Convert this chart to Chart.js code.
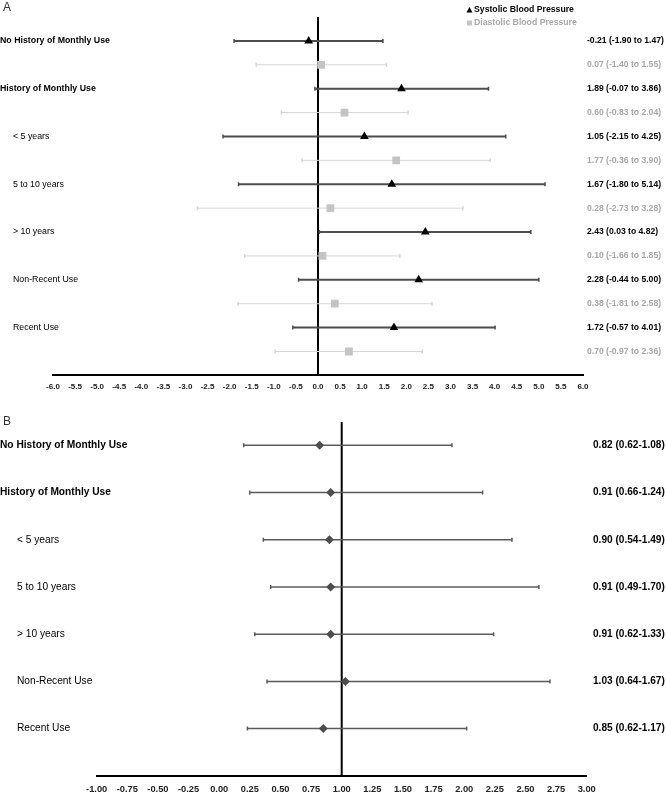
<!DOCTYPE html>
<html>
<head>
<meta charset="utf-8">
<script src="https://cdn.jsdelivr.net/npm/chart.js@4/dist/chart.umd.min.js"></script>
<style>
  body { margin: 0; background: #fff; overflow: hidden; }
  #wrap { position: relative; width: 666px; height: 793px; overflow: hidden; }
  canvas { position: absolute; left: 0; }
  #chartA { top: 0; }
  #chartB { top: 400px; }
</style>
</head>
<body>
<div id="wrap">
  <canvas id="chartA" width="666" height="400"></canvas>
  <canvas id="chartB" width="666" height="410"></canvas>
</div>
<script>
const grupos = ['No History of Monthly Use', 'History of Monthly Use', '< 5 years', '5 to 10 years', '> 10 years', 'Non-Recent Use', 'Recent Use'];

// Panel A: cambio de presión arterial (estimación e IC 95%)
const sbpEst  = [-0.21, 1.89, 1.05, 1.67, 2.43, 2.28, 1.72];
const sbpLow  = [-1.90, -0.07, -2.15, -1.80, 0.03, -0.44, -0.57];
const sbpHigh = [1.47, 3.86, 4.25, 5.14, 4.82, 5.00, 4.01];
const dbpEst  = [0.07, 0.60, 1.77, 0.28, 0.10, 0.38, 0.70];
const dbpLow  = [-1.40, -0.83, -0.36, -2.73, -1.66, -1.81, -0.97];
const dbpHigh = [1.55, 2.04, 3.90, 3.28, 1.85, 2.58, 2.36];

// Panel B: OR con IC impreso, y extremos de las barras tal como están dibujadas
const orEst  = [0.82, 0.91, 0.90, 0.91, 0.91, 1.03, 0.85];
const orLow  = [0.62, 0.66, 0.54, 0.49, 0.62, 0.64, 0.62];
const orHigh = [1.08, 1.24, 1.49, 1.70, 1.33, 1.67, 1.17];
const orBarLow  = [0.20, 0.25, 0.36, 0.42, 0.29, 0.39, 0.23];
const orBarHigh = [1.90, 2.15, 2.39, 2.61, 2.24, 2.70, 2.02];

const fam = "'Liberation Sans', Arial, sans-serif";
Chart.defaults.font.family = fam;
Chart.defaults.animation = false;

function bigote(lo, hi, y, color, width) {
    return {
        type: 'line',
        data: [{ x: lo, y: y }, { x: hi, y: y }],
        borderColor: color,
        borderWidth: width,
        pointStyle: 'line',
        pointRotation: 90,
        pointRadius: 2,
        pointBorderColor: color,
        pointBorderWidth: 1.5,
        showLine: true,
        order: 1
    };
}

// ---------- Panel A ----------
const datasetsA = [{
    type: 'line',
    data: [{ x: 0, y: -1 }, { x: 0, y: 14 }],
    borderColor: '#000',
    borderWidth: 2,
    pointRadius: 0,
    order: 2
}];
for (let i = 0; i < grupos.length; i++) {
    datasetsA.push(bigote(sbpLow[i], sbpHigh[i], 2 * i, '#4d4d4d', 2));
    datasetsA.push(bigote(dbpLow[i], dbpHigh[i], 2 * i + 1, '#d6d6d6', 1));
}
datasetsA.push({
    type: 'scatter',
    data: sbpEst.map((v, i) => ({ x: v, y: 2 * i })),
    pointStyle: 'triangle',
    pointRadius: 5,
    backgroundColor: '#000',
    borderColor: '#000',
    borderWidth: 0,
    order: 0
});
datasetsA.push({
    type: 'scatter',
    data: dbpEst.map((v, i) => ({ x: v, y: 2 * i + 1 })),
    pointStyle: 'rect',
    pointRadius: 5.5,
    backgroundColor: '#c4c4c4',
    borderColor: '#c4c4c4',
    borderWidth: 0,
    order: 0
});

const fmtA = (e, l, h) => `${e.toFixed(2)} (${l.toFixed(2)} to ${h.toFixed(2)})`;

const textosA = {
    id: 'textosA',
    afterDraw(chart) {
        const ctx = chart.ctx;
        const ys = chart.scales.y;
        ctx.save();
        ctx.textBaseline = 'middle';
        ctx.textAlign = 'left';
        ctx.fillStyle = '#333';
        ctx.font = '12px ' + fam;
        ctx.fillText('A', 3, 8);
        grupos.forEach((g, i) => {
            const principal = i < 2;
            ctx.fillStyle = '#000';
            ctx.font = (principal ? 'bold ' : '') + '8.8px ' + fam;
            ctx.fillText(g, principal ? 0 : 13, ys.getPixelForValue(2 * i));
            ctx.font = 'bold 8.6px ' + fam;
            ctx.fillText(fmtA(sbpEst[i], sbpLow[i], sbpHigh[i]), 587, ys.getPixelForValue(2 * i));
            ctx.fillStyle = '#a8a8a8';
            ctx.fillText(fmtA(dbpEst[i], dbpLow[i], dbpHigh[i]), 587, ys.getPixelForValue(2 * i + 1));
        });
        // leyenda
        ctx.font = 'bold 8.7px ' + fam;
        ctx.fillStyle = '#000';
        ctx.beginPath();
        ctx.moveTo(469.5, 7);
        ctx.lineTo(472.5, 12.5);
        ctx.lineTo(466.5, 12.5);
        ctx.closePath();
        ctx.fill();
        ctx.fillText('Systolic Blood Pressure', 474, 10);
        ctx.fillStyle = '#c4c4c4';
        ctx.fillRect(467, 20.5, 5, 5);
        ctx.fillStyle = '#a8a8a8';
        ctx.fillText('Diastolic Blood Pressure', 474, 23);
        ctx.restore();
    }
};

new Chart(document.getElementById('chartA'), {
    type: 'scatter',
    data: { datasets: datasetsA },
    options: {
        responsive: false,
        layout: { padding: { left: 53, right: 83, top: 17, bottom: 1 } },
        plugins: { legend: { display: false }, tooltip: { enabled: false } },
        scales: {
            x: {
                type: 'linear', min: -6, max: 6,
                border: { display: true, color: '#000', width: 2 },
                grid: { display: false, drawTicks: false },
                ticks: {
                    stepSize: 0.5, autoSkip: false, maxRotation: 0, padding: 7,
                    color: '#222', font: { size: 8, weight: 'bold' },
                    callback: v => v.toFixed(1)
                }
            },
            y: { type: 'linear', min: -1, max: 14, reverse: true, display: false }
        }
    },
    plugins: [textosA]
});

// ---------- Panel B ----------
const datasetsB = [{
    type: 'line',
    data: [{ x: 1, y: -0.5 }, { x: 1, y: 7 }],
    borderColor: '#000',
    borderWidth: 2,
    pointRadius: 0,
    order: 2
}];
for (let i = 0; i < grupos.length; i++) {
    datasetsB.push(bigote(orBarLow[i], orBarHigh[i], i, '#5a5a5a', 1.5));
}
datasetsB.push({
    type: 'scatter',
    data: orEst.map((v, i) => ({ x: v, y: i })),
    pointStyle: 'rectRot',
    pointRadius: 4.5,
    backgroundColor: '#4d4d4d',
    borderColor: '#4d4d4d',
    borderWidth: 0,
    order: 0
});

const textosB = {
    id: 'textosB',
    afterDraw(chart) {
        const ctx = chart.ctx;
        const ys = chart.scales.y;
        ctx.save();
        ctx.textBaseline = 'middle';
        ctx.textAlign = 'left';
        ctx.fillStyle = '#333';
        ctx.font = '12px ' + fam;
        ctx.fillText('B', 3, 22);
        grupos.forEach((g, i) => {
            const principal = i < 2;
            ctx.fillStyle = '#000';
            ctx.font = (principal ? 'bold ' : '') + '10.2px ' + fam;
            ctx.fillText(g, principal ? 0 : 17, ys.getPixelForValue(i));
            ctx.font = 'bold 10.1px ' + fam;
            ctx.fillText(`${orEst[i].toFixed(2)} (${orLow[i].toFixed(2)}-${orHigh[i].toFixed(2)})`, 593, ys.getPixelForValue(i));
        });
        ctx.restore();
    }
};

new Chart(document.getElementById('chartB'), {
    type: 'scatter',
    data: { datasets: datasetsB },
    options: {
        responsive: false,
        layout: { padding: { left: 96.7, right: 79.3, top: 21.7, bottom: 7 } },
        plugins: { legend: { display: false }, tooltip: { enabled: false } },
        scales: {
            x: {
                type: 'linear', min: -1, max: 3,
                border: { display: true, color: '#000', width: 2 },
                grid: { display: false, drawTicks: false },
                ticks: {
                    stepSize: 0.25, autoSkip: false, maxRotation: 0, padding: 8,
                    color: '#222', font: { size: 9.3, weight: 'bold' },
                    callback: v => v.toFixed(2)
                }
            },
            y: { type: 'linear', min: -0.5, max: 7, reverse: true, display: false }
        }
    },
    plugins: [textosB]
});
</script>
</body>
</html>
